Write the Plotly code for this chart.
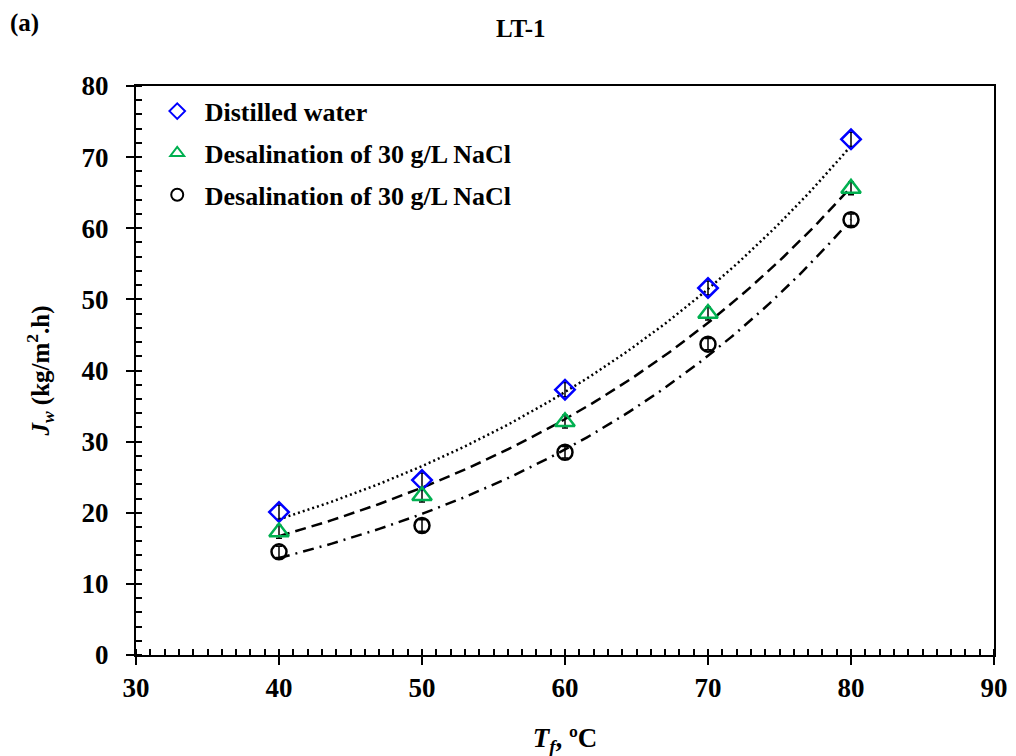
import numpy as np
import plotly.graph_objects as go

temps = [40, 50, 60, 70, 80]
distilled = [20.1, 24.6, 37.3, 51.6, 72.5]
distilled_err = [1.0, 1.0, 1.0, 1.0, 1.0]
nacl_a = [17.3, 22.4, 32.8, 48.0, 65.6]
nacl_a_err = [0.9, 0.9, 0.9, 0.9, 0.9]
nacl_b = [14.5, 18.2, 28.5, 43.7, 61.2]
nacl_b_err = [0.8, 0.8, 0.8, 0.8, 0.8]

names = ["Distilled water", "Desalination of 30 g/L NaCl", "Desalination of 30 g/L NaCl"]
symbols = ["diamond-open", "triangle-up-open", "circle-open"]
sizes = [15, 17, 15]
colors = ["#0000FF", "#00B050", "#000000"]
dashes = ["2px,3px", "11px,6px", "11px,6px,2px,6px"]

FONT = "Liberation Serif"

fig = go.Figure()

series = [(distilled, distilled_err), (nacl_a, nacl_a_err), (nacl_b, nacl_b_err)]

# exponential trend lines (least squares on log values, like a spreadsheet trendline)
xs = np.linspace(min(temps), max(temps), 120)
for (vals, _), dash in zip(series, dashes):
    b, lna = np.polyfit(temps, np.log(vals), 1)
    fig.add_trace(go.Scatter(x=xs, y=np.exp(lna) * np.exp(b * xs), mode="lines",
                             line=dict(color="black", width=2.5, dash=dash),
                             showlegend=False, hoverinfo="skip"))

for i, ((vals, err), name, sym, sz, col) in enumerate(zip(series, names, symbols, sizes, colors)):
    fig.add_trace(go.Scatter(
        x=temps, y=vals, mode="markers", name=name, legendgroup=f"g{i}",
        marker=dict(symbol=sym, size=sz, color=col, line=dict(width=2.5, color=col)),
        error_y=dict(type="data", array=err, visible=True, color="black", thickness=1.5, width=3),
    ))

axis_common = dict(
    showline=True, linecolor="black", linewidth=2, mirror=True,
    showgrid=False, zeroline=False,
    ticks="outside", ticklen=8, tickwidth=2, tickcolor="black",
    tickfont=dict(family=FONT, size=27, color="black", weight="bold"),
)

fig.update_xaxes(
    range=[30, 90], tick0=30, dtick=10,
    minor=dict(ticks="inside", dtick=1, ticklen=6, tickwidth=1.5, tickcolor="black"),
    title=dict(text="<i>T</i><sub><i>f</i></sub>, ºC",
               font=dict(family=FONT, size=27, color="black", weight="bold"), standoff=26),
    **axis_common,
)
fig.update_yaxes(
    range=[0, 80], tick0=0, dtick=10,
    minor=dict(ticks="inside", dtick=2, ticklen=6, tickwidth=1.5, tickcolor="black"),
    title=dict(text="<i>J</i><sub><i>w</i></sub> (kg/m<sup>2</sup>.h)",
               font=dict(family=FONT, size=25, color="black", weight="bold"), standoff=25),
    ticklabelstandoff=12,
    **axis_common,
)

fig.update_layout(
    width=1016, height=756,
    paper_bgcolor="white", plot_bgcolor="white",
    margin=dict(l=128, r=30, t=78, b=109),
    legend=dict(x=0.016, y=0.997, xanchor="left", yanchor="top",
                font=dict(family=FONT, size=26, color="black", weight="bold"),
                bgcolor="rgba(0,0,0,0)", tracegroupgap=5, itemsizing="constant",
                itemwidth=45),
    font=dict(family=FONT, color="black"),
    annotations=[
        dict(text="(a)", xref="paper", yref="paper", x=-0.149, y=1.11,
             xanchor="left", yanchor="middle", showarrow=False,
             font=dict(family=FONT, size=25, color="black", weight="bold")),
        dict(text="LT-1", xref="paper", yref="paper", x=0.449, y=1.101,
             xanchor="center", yanchor="middle", showarrow=False,
             font=dict(family=FONT, size=25, color="black", weight="bold")),
    ],
)

fig.write_html("out.html")
